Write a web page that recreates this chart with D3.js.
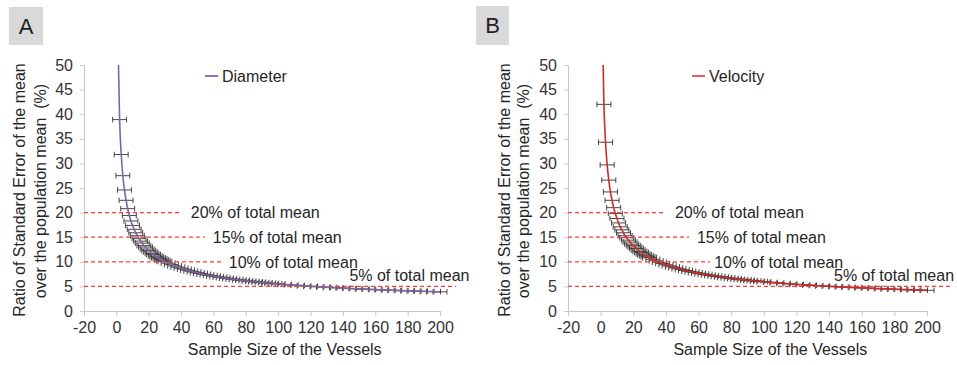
<!DOCTYPE html>
<html>
<head>
<meta charset="utf-8">
<script src="https://cdn.jsdelivr.net/npm/d3@7/dist/d3.min.js"></script>
<style>
  body { margin: 0; background: #fff; }
  text { font-family: "Liberation Sans", Arial, sans-serif; }
</style>
</head>
<body>
<div id="chart"></div>
<script>
// sample sizes (n) where the ratio was evaluated
const sampleSize = [1,2,3,4,5,6,7,8,9,10,11,12,13,14,15,16,17,18,19,20,21,22,23,24,25,26,27,28,29,
  30,32,34,36,38,40,42,44,46,48,50,52,54,56,58,60,62,64,66,68,70,72,74,76,78,80,82,84,86,88,90,92,94,96,98,100,
  104,108,112,116,120,124,128,132,136,140,144,148,152,156,160,164,168,172,176,180,184,188,192,196,200];

// ratio (%) for diameter - panel A
const diameterRatio = [55.0,38.9,31.8,27.5,24.6,22.5,20.8,19.4,18.3,17.4,16.6,15.9,15.3,14.7,14.2,13.8,13.3,13.0,12.6,12.3,12.0,11.7,11.5,11.2,11.0,10.8,10.6,10.4,10.2,
  10.04,9.72,9.43,9.17,8.92,8.70,8.49,8.29,8.11,7.94,7.78,7.63,7.48,7.35,7.22,7.10,6.99,6.88,6.77,6.67,6.57,6.48,6.39,6.31,6.23,6.15,6.07,6.00,5.93,5.86,5.80,5.73,5.67,5.61,5.56,5.50,
  5.39,5.29,5.20,5.11,5.02,4.94,4.86,4.79,4.72,4.65,4.58,4.52,4.46,4.40,4.35,4.29,4.24,4.19,4.15,4.10,4.05,4.01,3.97,3.93,3.89];

// ratio (%) for velocity - panel B
const velocityRatio = [59.4,42.0,34.3,29.7,26.6,24.2,22.5,21.0,19.8,18.8,17.9,17.1,16.5,15.9,15.3,14.9,14.4,14.0,13.6,13.3,13.0,12.7,12.4,12.1,11.9,11.6,11.4,11.2,11.0,
  10.84,10.50,10.19,9.90,9.64,9.39,9.17,8.96,8.76,8.57,8.40,8.24,8.08,7.94,7.80,7.67,7.54,7.43,7.31,7.20,7.10,7.00,6.91,6.81,6.73,6.64,6.56,6.48,6.41,6.33,6.26,6.19,6.13,6.06,6.00,5.94,
  5.82,5.72,5.61,5.52,5.42,5.33,5.25,5.17,5.09,5.02,4.95,4.88,4.82,4.76,4.70,4.64,4.58,4.53,4.48,4.43,4.38,4.33,4.29,4.24,4.20];

// horizontal error (in sample size units)
const sampleErr = 4.3;

// reference levels
const refLevels = [20, 15, 10, 5];
const refLabels = ["20% of total mean", "15% of total mean", "10% of total mean", "5% of total mean"];

const xTicks = d3.range(-20, 201, 20);
const yTicks = d3.range(0, 51, 5);

const width = 957, height = 365;
const svg = d3.select("#chart").append("svg")
  .attr("width", width)
  .attr("height", height);

const panels = [
  {
    tag: "A", name: "Diameter", values: diameterRatio, color: "#8064a2", legendColor: "#8a72b0",
    xRange: [84, 440], tagBox: [9, 7, 34, 38], titleX: [19, 40], legendX: 205,
    dashEnd: [40.5, 54.7, 65.8, 210], labelX: [46, 59.6, 69.5, 144]
  },
  {
    tag: "B", name: "Velocity", values: velocityRatio, color: "#d12a2a", legendColor: "#e06060",
    xRange: [568, 927], tagBox: [476, 6, 33, 39], titleX: [504, 523], legendX: 692,
    dashEnd: [40, 54.2, 67, 216], labelX: [45.5, 59, 69.6, 143]
  }
];

panels.forEach((p, pi) => {
  const x = d3.scaleLinear().domain([-20, 200]).range(p.xRange);
  const y = d3.scaleLinear().domain([0, 50]).range([311, 65]);
  const g = svg.append("g");

  // panel tag
  g.append("rect")
    .attr("x", p.tagBox[0]).attr("y", p.tagBox[1])
    .attr("width", p.tagBox[2]).attr("height", p.tagBox[3])
    .attr("fill", "#d9d9d9");
  g.append("text")
    .attr("x", p.tagBox[0] + p.tagBox[2] / 2)
    .attr("y", p.tagBox[1] + p.tagBox[3] / 2)
    .attr("dy", "0.36em")
    .attr("text-anchor", "middle")
    .attr("font-size", "22px")
    .attr("fill", "#222")
    .text(p.tag);

  // axes
  const xAxis = g.append("g")
    .attr("transform", `translate(0,${y(0)})`)
    .call(d3.axisBottom(x).tickValues(xTicks).tickFormat(d => String(d)).tickSize(5).tickPadding(6));
  const yAxis = g.append("g")
    .attr("transform", `translate(${x(-20)},0)`)
    .call(d3.axisLeft(y).tickValues(yTicks).tickFormat(d => String(d)).tickSize(4).tickPadding(7));
  [xAxis, yAxis].forEach(a => {
    a.select(".domain").attr("stroke", "#c8c8c8");
    a.selectAll(".tick line").attr("stroke", "#c8c8c8");
    a.selectAll(".tick text")
      .attr("font-size", "16px")
      .attr("fill", "#333")
      .style("font-family", "'Liberation Sans', Arial, sans-serif");
  });

  // axis titles
  g.append("text")
    .attr("x", x(104))
    .attr("y", 355)
    .attr("text-anchor", "middle")
    .attr("font-size", "16px")
    .attr("fill", "#262626")
    .text("Sample Size of the Vessels");

  const titles = ["Ratio of Standard Error of the mean", "over the population mean  (%)"];
  titles.forEach((t, i) => {
    g.append("text")
      .attr("transform", `translate(${p.titleX[i]},${i === 0 ? 190 : 191}) rotate(-90)`)
      .attr("dy", "0.36em")
      .attr("text-anchor", "middle")
      .attr("font-size", "16px")
      .attr("fill", "#262626")
      .style("white-space", "pre")
      .text(t);
  });

  // clip to the plot area
  const clipId = "clip" + pi;
  g.append("clipPath").attr("id", clipId)
    .append("rect")
    .attr("x", x(-20)).attr("y", y(50))
    .attr("width", x(200) - x(-20) + 20)
    .attr("height", y(0) - y(50));

  const data = sampleSize.map((n, i) => ({ n: n, v: p.values[i] }));

  // error bars
  const eb = g.append("g").attr("clip-path", `url(#${clipId})`)
    .attr("stroke", "#333")
    .attr("stroke-width", 0.9);
  data.forEach(d => {
    const cy = y(d.v);
    eb.append("line")
      .attr("x1", x(d.n - sampleErr)).attr("x2", x(d.n + sampleErr))
      .attr("y1", cy).attr("y2", cy);
    eb.append("line")
      .attr("x1", x(d.n - sampleErr)).attr("x2", x(d.n - sampleErr))
      .attr("y1", cy - 2.8).attr("y2", cy + 2.8);
    eb.append("line")
      .attr("x1", x(d.n + sampleErr)).attr("x2", x(d.n + sampleErr))
      .attr("y1", cy - 2.8).attr("y2", cy + 2.8);
  });

  // reference lines
  refLevels.forEach((lv, i) => {
    g.append("line")
      .attr("x1", x(-20)).attr("x2", x(p.dashEnd[i]))
      .attr("y1", y(lv)).attr("y2", y(lv))
      .attr("stroke", "#ff3b3b")
      .attr("stroke-width", 1.3)
      .attr("stroke-dasharray", "4,3");
    g.append("text")
      .attr("x", x(p.labelX[i]))
      .attr("y", i === 3 ? y(lv) - 5 : y(lv))
      .attr("dy", i === 3 ? "0" : "0.36em")
      .attr("font-size", "16px")
      .attr("fill", "#262626")
      .text(refLabels[i]);
  });

  // main curve
  const line = d3.line()
    .x(d => x(d.n))
    .y(d => y(d.v))
    .curve(d3.curveMonotoneX);
  g.append("path")
    .datum(data)
    .attr("clip-path", `url(#${clipId})`)
    .attr("d", line)
    .attr("fill", "none")
    .attr("stroke", p.color)
    .attr("stroke-width", 1.6);

  // legend
  g.append("line")
    .attr("x1", p.legendX).attr("x2", p.legendX + 13)
    .attr("y1", 76).attr("y2", 76)
    .attr("stroke", p.legendColor)
    .attr("stroke-width", 2);
  g.append("text")
    .attr("x", p.legendX + 17)
    .attr("y", 76)
    .attr("dy", "0.36em")
    .attr("font-size", "16px")
    .attr("fill", "#262626")
    .text(p.name);
});
</script>
</body>
</html>
